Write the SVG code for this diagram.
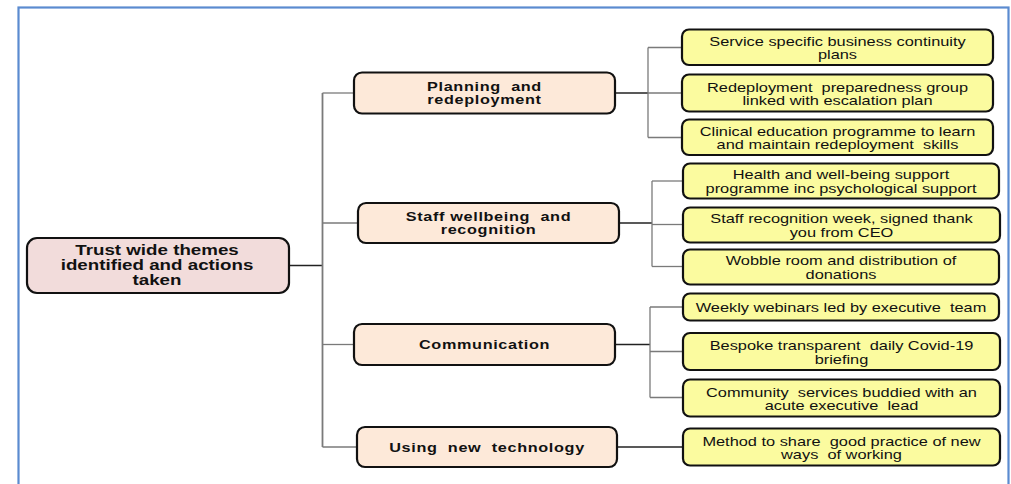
<svg xmlns="http://www.w3.org/2000/svg" width="1011" height="484" viewBox="0 0 1011 484">
  <style>
    .frame { fill: #ffffff; stroke: #5b8bd0; stroke-width: 2.2; }
    .root { fill: #f2dcdb; stroke: #111; stroke-width: 2.2; }
    .theme { fill: #fde9d9; stroke: #111; stroke-width: 2.2; }
    .action { fill: #fbfb9f; stroke: #111; stroke-width: 2.2; }
    .lbl { font-family: "Liberation Sans", Arial, sans-serif; text-anchor: middle; fill: #111; white-space: pre; }
    .root-t { font-size: 15px; font-weight: bold; }
    .theme-t { font-size: 12.5px; font-weight: bold; letter-spacing: 0.5px; }
    .action-t { font-size: 13px; }
    .wire { fill: none; stroke: #7a7a7a; stroke-width: 1.3; }
    .wire-dark { fill: none; stroke: #222; stroke-width: 1.3; }
  </style>

  <!-- outer frame -->
  <rect class="frame" x="18.5" y="7.5" width="990" height="500"/>

  <!-- connectors -->
  <g id="connectors">
    <line class="wire-dark" x1="289" y1="265.5" x2="322.5" y2="265.5"/>
    <line class="wire" x1="322.5" y1="93" x2="322.5" y2="447" style="stroke-width:1.8"/>
    <line class="wire" x1="322.5" y1="93" x2="354" y2="93"/>
    <line class="wire" x1="322.5" y1="223" x2="358" y2="223"/>
    <line class="wire" x1="322.5" y1="344.5" x2="354" y2="344.5"/>
    <line class="wire" x1="322.5" y1="447" x2="357" y2="447"/>

    <!-- planning branch -->
    <line class="wire-dark" x1="615" y1="93" x2="648" y2="93"/>
    <line class="wire" x1="648" y1="47.5" x2="648" y2="137.5"/>
    <line class="wire" x1="648" y1="47.5" x2="682" y2="47.5"/>
    <line class="wire" x1="648" y1="93" x2="682" y2="93"/>
    <line class="wire" x1="648" y1="137.5" x2="682" y2="137.5"/>

    <!-- wellbeing branch -->
    <line class="wire-dark" x1="619" y1="223" x2="652" y2="223"/>
    <line class="wire" x1="652" y1="181" x2="652" y2="266.5"/>
    <line class="wire" x1="652" y1="181" x2="683" y2="181"/>
    <line class="wire" x1="652" y1="224.5" x2="683" y2="224.5"/>
    <line class="wire" x1="652" y1="266.5" x2="683" y2="266.5"/>

    <!-- communication branch -->
    <line class="wire-dark" x1="615" y1="344.5" x2="650" y2="344.5"/>
    <line class="wire" x1="650" y1="307" x2="650" y2="397.5"/>
    <line class="wire" x1="650" y1="307" x2="683" y2="307"/>
    <line class="wire" x1="650" y1="351.5" x2="683" y2="351.5"/>
    <line class="wire" x1="650" y1="397.5" x2="683" y2="397.5"/>

    <!-- technology branch -->
    <line class="wire-dark" x1="617" y1="447" x2="683" y2="447"/>
  </g>

  <!-- root -->
  <g id="root">
    <rect class="root" x="27" y="238" width="262" height="55" rx="10"/>
    <text class="lbl root-t" transform="translate(157,255) scale(1.25,1)">Trust wide themes</text>
    <text class="lbl root-t" transform="translate(157,270) scale(1.25,1)">identified and actions</text>
    <text class="lbl root-t" transform="translate(157,285) scale(1.25,1)">taken</text>
  </g>

  <!-- themes -->
  <g id="theme-planning">
    <rect class="theme" x="354" y="72.5" width="261" height="41" rx="8"/>
    <text class="lbl theme-t" transform="translate(484.5,91) scale(1.3,1)">Planning  and</text>
    <text class="lbl theme-t" transform="translate(484.5,104) scale(1.3,1)">redeployment</text>
  </g>
  <g id="theme-wellbeing">
    <rect class="theme" x="358" y="203" width="261" height="40" rx="8"/>
    <text class="lbl theme-t" transform="translate(488.5,221) scale(1.3,1)">Staff wellbeing  and</text>
    <text class="lbl theme-t" transform="translate(488.5,234) scale(1.3,1)">recognition</text>
  </g>
  <g id="theme-communication">
    <rect class="theme" x="354" y="324" width="261" height="41" rx="8"/>
    <text class="lbl theme-t" transform="translate(484.5,349) scale(1.3,1)">Communication</text>
  </g>
  <g id="theme-technology">
    <rect class="theme" x="357" y="427" width="260" height="40" rx="8"/>
    <text class="lbl theme-t" transform="translate(487,451.5) scale(1.3,1)">Using  new  technology</text>
  </g>

  <!-- actions -->
  <g id="action-continuity">
    <rect class="action" x="682" y="29.5" width="311" height="35.5" rx="7"/>
    <text class="lbl action-t" transform="translate(837.5,45.5) scale(1.26,1)">Service specific business continuity</text>
    <text class="lbl action-t" transform="translate(837.5,59) scale(1.26,1)">plans</text>
  </g>
  <g id="action-preparedness">
    <rect class="action" x="682" y="74.5" width="311" height="37" rx="7"/>
    <text class="lbl action-t" transform="translate(837.5,91.5) scale(1.26,1)">Redeployment  preparedness group</text>
    <text class="lbl action-t" transform="translate(837.5,105) scale(1.26,1)">linked with escalation plan</text>
  </g>
  <g id="action-education">
    <rect class="action" x="682" y="119.5" width="311" height="35.5" rx="7"/>
    <text class="lbl action-t" transform="translate(837.5,135.5) scale(1.26,1)">Clinical education programme to learn</text>
    <text class="lbl action-t" transform="translate(837.5,149) scale(1.26,1)">and maintain redeployment  skills</text>
  </g>
  <g id="action-health">
    <rect class="action" x="683" y="163.5" width="316" height="35" rx="7"/>
    <text class="lbl action-t" transform="translate(841,179) scale(1.26,1)">Health and well-being support</text>
    <text class="lbl action-t" transform="translate(841,192.5) scale(1.26,1)">programme inc psychological support</text>
  </g>
  <g id="action-recognition">
    <rect class="action" x="683" y="207.5" width="317" height="35" rx="7"/>
    <text class="lbl action-t" transform="translate(841.5,223) scale(1.26,1)">Staff recognition week, signed thank</text>
    <text class="lbl action-t" transform="translate(841.5,236.5) scale(1.26,1)">you from CEO</text>
  </g>
  <g id="action-wobble">
    <rect class="action" x="683" y="249.5" width="316" height="35" rx="7"/>
    <text class="lbl action-t" transform="translate(841,265) scale(1.26,1)">Wobble room and distribution of</text>
    <text class="lbl action-t" transform="translate(841,278.5) scale(1.26,1)">donations</text>
  </g>
  <g id="action-webinars">
    <rect class="action" x="683" y="293.5" width="316" height="27" rx="7"/>
    <text class="lbl action-t" transform="translate(841,311.5) scale(1.26,1)">Weekly webinars led by executive  team</text>
  </g>
  <g id="action-briefing">
    <rect class="action" x="683" y="333" width="317" height="37" rx="7"/>
    <text class="lbl action-t" transform="translate(841.5,350) scale(1.26,1)">Bespoke transparent  daily Covid-19</text>
    <text class="lbl action-t" transform="translate(841.5,363.5) scale(1.26,1)">briefing</text>
  </g>
  <g id="action-buddied">
    <rect class="action" x="683" y="379.5" width="317" height="37" rx="7"/>
    <text class="lbl action-t" transform="translate(841.5,396.5) scale(1.26,1)">Community  services buddied with an</text>
    <text class="lbl action-t" transform="translate(841.5,410) scale(1.26,1)">acute executive  lead</text>
  </g>
  <g id="action-practice">
    <rect class="action" x="683" y="428.5" width="317" height="37" rx="7"/>
    <text class="lbl action-t" transform="translate(841.5,445.5) scale(1.26,1)">Method to share  good practice of new</text>
    <text class="lbl action-t" transform="translate(841.5,459) scale(1.26,1)">ways  of working</text>
  </g>
</svg>
